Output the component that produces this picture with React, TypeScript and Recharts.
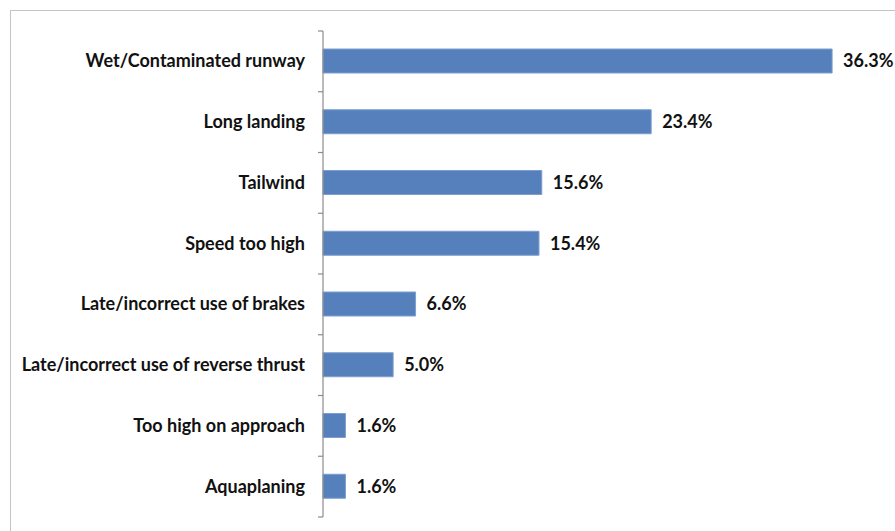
import { BarChart, Bar, XAxis, YAxis, LabelList } from 'recharts';

const categories = [
  'Wet/Contaminated runway',
  'Long landing',
  'Tailwind',
  'Speed too high',
  'Late/incorrect use of brakes',
  'Late/incorrect use of reverse thrust',
  'Too high on approach',
  'Aquaplaning',
];

const shares = [36.3, 23.4, 15.6, 15.4, 6.6, 5.0, 1.6, 1.6];

const rows = categories.map((name, i) => ({ name, value: shares[i] }));

const font = 'Lato, "Open Sans", sans-serif';
const W = 895;
const H = 531;
const M = { top: 31, right: 11, bottom: 14, left: 0 };
const LABEL_GAP = 18;
const TICK = 5;
const band = (H - M.top - M.bottom) / categories.length;
const axisColor = '#8c8c8c';

function CatTick(props: any) {
  const { x, y, payload, index } = props;
  const ax = x + LABEL_GAP;
  const last = index === categories.length - 1;
  return (
    <g>
      <line x1={ax - TICK} x2={ax} y1={y - band / 2} y2={y - band / 2} stroke={axisColor} strokeWidth={1.2} />
      {last && (
        <line x1={ax - TICK} x2={ax} y1={y + band / 2} y2={y + band / 2} stroke={axisColor} strokeWidth={1.2} />
      )}
      <text
        x={x}
        y={y}
        dy={6}
        textAnchor="end"
        fill="#111"
        fontSize={18}
        fontWeight={700}
        fontFamily={font}
      >
        {payload.value}
      </text>
    </g>
  );
}

export default function App() {
  return (
    <div
      style={{
        position: 'absolute',
        left: 0,
        top: 0,
        width: W,
        height: H,
        overflow: 'hidden',
        background: '#fff',
      }}
    >
      <div
        style={{
          position: 'absolute',
          left: 10,
          top: 10,
          width: 920,
          height: 560,
          border: '1.5px solid #c4c4c4',
        }}
      />
      <div style={{ position: 'absolute', left: 0, top: 0 }}>
        <BarChart width={W} height={H} data={rows} layout="vertical" margin={M}>
          <XAxis type="number" domain={[0, 40]} hide />
          <YAxis
            type="category"
            dataKey="name"
            width={323}
            axisLine={{ stroke: axisColor, strokeWidth: 1.2 }}
            tickLine={false}
            tickSize={0}
            tickMargin={LABEL_GAP}
            interval={0}
            tick={<CatTick />}
          />
          <Bar
            dataKey="value"
            fill="#5580bb"
            stroke="#7d9fd0"
            strokeWidth={1}
            barSize={24}
            isAnimationActive={false}
          >
            <LabelList
              dataKey="value"
              position="right"
              offset={11}
              formatter={(v: number) => `${Number(v).toFixed(1)}%`}
              style={{ fill: '#111', fontSize: 18, fontWeight: 700, fontFamily: font }}
            />
          </Bar>
        </BarChart>
      </div>
    </div>
  );
}
